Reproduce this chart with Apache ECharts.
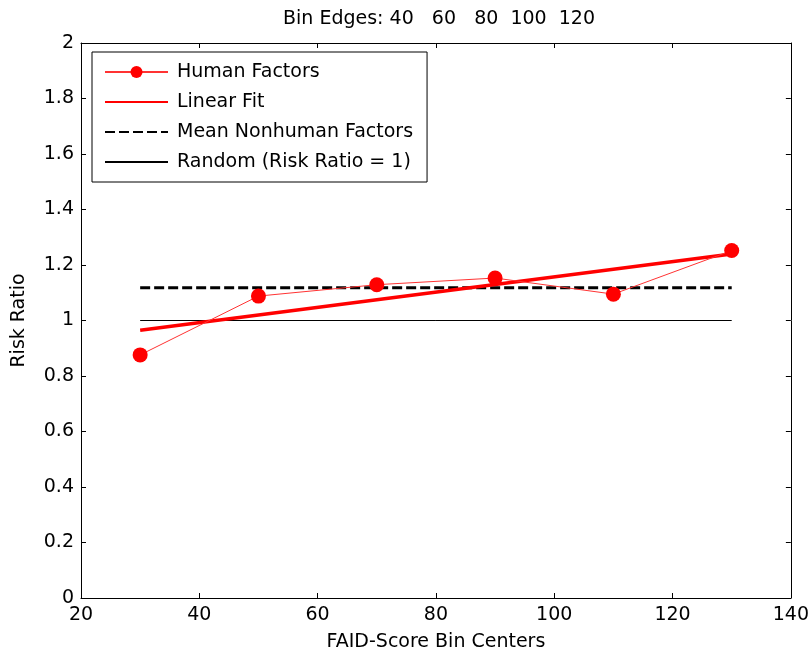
<!DOCTYPE html>
<html>
<head>
<meta charset="utf-8">
<script src="https://cdn.jsdelivr.net/npm/echarts@6/dist/echarts.min.js"></script>
<style>html,body{margin:0;padding:0;background:#fff;}#c{width:812px;height:659px;}</style>
</head>
<body>
<div id="c"></div>
<script>
const binCenters = [30, 50, 70, 90, 110, 130];
const humanFactors = [0.876, 1.088, 1.129, 1.153, 1.095, 1.252];
const fitX = [30, 130];
const fitY = [0.965, 1.240];
const meanNonhuman = 1.118;
const randomRatio = 1;
const binEdgesTitle = 'Bin Edges: 40   60   80  100  120';
const seriesNames = ['Human Factors', 'Linear Fit', 'Mean Nonhuman Factors', 'Random (Risk Ratio = 1)'];

const FONT = '"DejaVu Sans", Arial, sans-serif';
const FS = 19;
const chart = echarts.init(document.getElementById('c'), null, {renderer: 'canvas'});

const axisCommon = {
  axisLine: {show: true, onZero: false, lineStyle: {color: '#000', width: 1}},
  axisTick: {show: true, inside: true, length: 5, lineStyle: {color: '#000'}},
  splitLine: {show: false}
};

chart.setOption({
  animation: false,
  backgroundColor: '#fff',
  title: {
    text: binEdgesTitle,
    left: 434, top: 5, textAlign: 'center',
    textStyle: {fontFamily: FONT, fontSize: FS, fontWeight: 'normal', color: '#000'}
  },
  grid: {left: 81, right: 21, top: 43, bottom: 61, containLabel: false},
  legend: {
    left: 92, top: 52, orient: 'vertical',
    data: seriesNames.map((n, i) => i === 0 ? {name: n} : {name: n, itemStyle: {opacity: 0}}),
    backgroundColor: '#fff', borderColor: '#000', borderWidth: 1,
    padding: [10, 14, 10, 12],
    itemWidth: 63, itemHeight: 15, itemGap: 10,
    textStyle: {fontFamily: FONT, fontSize: FS, lineHeight: 20, color: '#000', padding: [0, 0, 0, 4]}
  },
  xAxis: [
    Object.assign({type: 'value', min: 20, max: 140, interval: 20, position: 'bottom',
      name: 'FAID-Score Bin Centers', nameLocation: 'middle', nameGap: 35,
      nameTextStyle: {fontFamily: FONT, fontSize: FS, color: '#000'},
      axisLabel: {fontFamily: FONT, fontSize: FS, color: '#000', margin: 8}}, axisCommon),
    Object.assign({type: 'value', min: 20, max: 140, interval: 20, position: 'top',
      axisLabel: {show: false}}, axisCommon)
  ],
  yAxis: [
    Object.assign({type: 'value', min: 0, max: 2, interval: 0.2, position: 'left',
      name: 'Risk Ratio', nameLocation: 'middle', nameGap: 52,
      nameTextStyle: {fontFamily: FONT, fontSize: FS, color: '#000'},
      axisLabel: {fontFamily: FONT, fontSize: FS, color: '#000', margin: 7}}, axisCommon),
    Object.assign({type: 'value', min: 0, max: 2, interval: 0.2, position: 'right',
      axisLabel: {show: false}}, axisCommon)
  ],
  series: [
    {
      name: seriesNames[0], type: 'line',
      data: binCenters.map((x, i) => [x, humanFactors[i]]),
      symbol: 'circle', symbolSize: 15, showSymbol: true,
      lineStyle: {color: '#ff3333', width: 1},
      itemStyle: {color: '#ff0000'},
      z: 5
    },
    {
      name: seriesNames[1], type: 'line',
      data: fitX.map((x, i) => [x, fitY[i]]),
      symbol: 'none',
      lineStyle: {color: '#ff0000', width: 3.5},
      itemStyle: {color: '#ff0000'},
      z: 4
    },
    {
      name: seriesNames[2], type: 'line',
      data: [[binCenters[0], meanNonhuman], [binCenters[binCenters.length - 1], meanNonhuman]],
      symbol: 'none',
      lineStyle: {color: '#000', width: 3, type: [10, 4]},
      itemStyle: {color: '#000'},
      z: 3
    },
    {
      name: seriesNames[3], type: 'line',
      data: [[binCenters[0], randomRatio], [binCenters[binCenters.length - 1], randomRatio]],
      symbol: 'none',
      lineStyle: {color: '#000', width: 1},
      itemStyle: {color: '#000'},
      z: 2
    }
  ]
});
</script>
</body>
</html>
